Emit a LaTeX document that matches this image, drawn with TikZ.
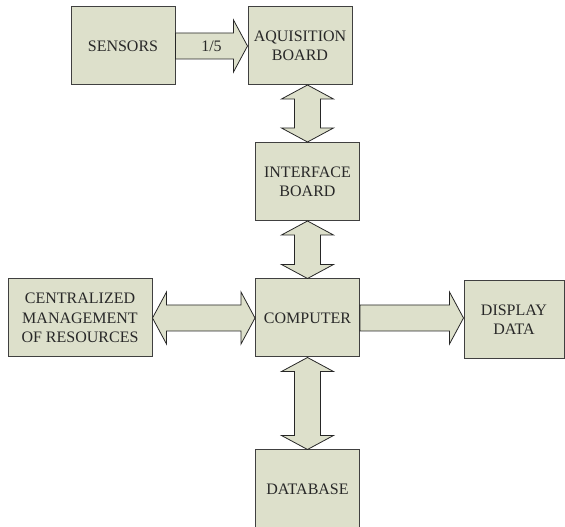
\documentclass[tikz,border=0pt]{standalone}
\usepackage{fontspec}
\setmainfont{Liberation Serif}
\usetikzlibrary{calc}
\definecolor{boxfill}{RGB}{221,224,203}
\definecolor{boxline}{RGB}{64,64,64}
\definecolor{boxtext}{RGB}{40,40,40}
\tikzset{
  block/.style={draw=boxline,fill=boxfill,line width=0.75pt,text=boxtext,align=center,
    minimum width=78pt,minimum height=58.5pt,inner sep=1pt,font=\fontsize{12}{14.5}\selectfont},
  fat/.style={draw=black!85,fill=boxfill,line width=0.6pt,line join=miter}
}
% shaft half width, head half width, head length
\newcommand{\shaftw}{9.75pt}
\newcommand{\headw}{19.5pt}
\newcommand{\headl}{10.5pt}
% block arrow from #1 to #2
\newcommand{\fatsingle}[2]{%
  \path[fat] ($(#1)!\shaftw!90:(#2)$)
    -- ($(#2)!\headl!(#1)!\shaftw!-90:(#1)$)
    -- ($(#2)!\headl!(#1)!\headw!-90:(#1)$)
    -- (#2)
    -- ($(#2)!\headl!(#1)!\headw!90:(#1)$)
    -- ($(#2)!\headl!(#1)!\shaftw!90:(#1)$)
    -- ($(#1)!\shaftw!-90:(#2)$) -- cycle;}
% block arrow with two heads
\newcommand{\fatdouble}[2]{%
  \path[fat] (#1)
    -- ($(#1)!\headl!(#2)!\headw!90:(#2)$)
    -- ($(#1)!\headl!(#2)!\shaftw!90:(#2)$)
    -- ($(#2)!\headl!(#1)!\shaftw!-90:(#1)$)
    -- ($(#2)!\headl!(#1)!\headw!-90:(#1)$)
    -- (#2)
    -- ($(#2)!\headl!(#1)!\headw!90:(#1)$)
    -- ($(#2)!\headl!(#1)!\shaftw!90:(#1)$)
    -- ($(#1)!\headl!(#2)!\shaftw!-90:(#2)$)
    -- ($(#1)!\headl!(#2)!\headw!-90:(#2)$)
    -- cycle;}
\begin{document}
\begin{tikzpicture}[x=0.75pt,y=-0.75pt]
  \useasboundingbox (0,0) rectangle (565,527);
  \node[block] (sensors) at (123,46) {SENSORS};
  \node[block] (aquis) at (300,45.5) {AQUISITION\\BOARD};
  \node[block] (iface) at (307.5,181.5) {INTERFACE\\BOARD};
  \node[block] (computer) at (307.5,318) {COMPUTER};
  \node[block,minimum width=108pt] (central) at (80,318) {CENTRALIZED\\MANAGEMENT\\OF RESOURCES};
  \node[block,minimum width=75pt] (display) at (514,320) {DISPLAY\\DATA};
  \node[block] (database) at (307.5,489) {DATABASE};
  % arrow ends
  \coordinate (s2) at (aquis.west |- sensors.east);
  \coordinate (a1) at (aquis.south -| iface.north);
  \coordinate (d1) at (display.west |- computer.east);
  \fatsingle{sensors.east}{s2}
  \fatdouble{a1}{iface.north}
  \fatdouble{iface.south}{computer.north}
  \fatdouble{central.east}{computer.west}
  \fatsingle{computer.east}{d1}
  \fatdouble{computer.south}{database.north}
  \node[text=boxtext,font=\fontsize{12}{14.5}\selectfont] (ratio) at ($(sensors.east)!0.5!(s2)$) {1/5};
\end{tikzpicture}
\end{document}
